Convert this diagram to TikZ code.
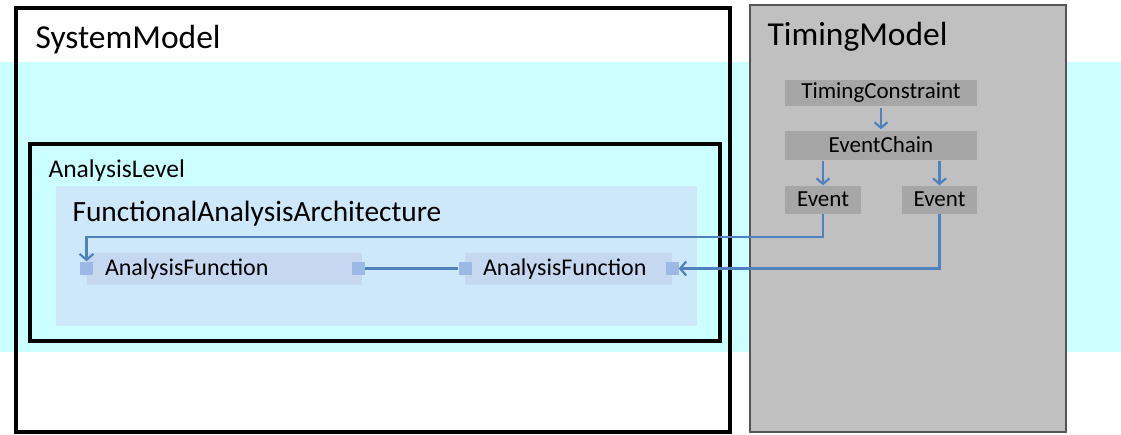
\documentclass[tikz,border=0pt]{standalone}
\usepackage{fontspec}
\setmainfont{Carlito}
\usetikzlibrary{arrows.meta}
\definecolor{bandcyan}{RGB}{204,255,255}
\definecolor{faafill}{RGB}{204,232,250}
\definecolor{affill}{RGB}{197,216,240}
\definecolor{portfill}{RGB}{155,185,228}
\definecolor{conn}{RGB}{79,129,189}
\definecolor{tmfill}{RGB}{192,192,192}
\definecolor{tbfill}{RGB}{166,166,166}
\definecolor{tmborder}{RGB}{85,85,85}
\tikzset{
  modelbox/.style={draw=black, line width=3.5pt, inner sep=0pt},
  afbox/.style={fill=affill, draw=none, minimum height=32pt, inner xsep=18pt, inner ysep=0pt, align=left, font=\fontsize{24}{28}\selectfont},
  port/.style={fill=portfill, draw=none, minimum size=13pt, inner sep=0pt},
  tbox/.style={fill=tbfill, draw=none, inner sep=0pt, font=\fontsize{23}{27}\selectfont},
  conarrow/.style={draw=conn, line width=2.2pt, -{Straight Barb[length=6pt,width=14pt,line width=2.2pt]}},
  shortarrow/.style={draw=conn, line width=2.2pt, -{Straight Barb[length=5.5pt,width=13pt,line width=2.2pt]}},
}
\begin{document}
\begin{tikzpicture}[x=1pt,y=-1pt]
\useasboundingbox (0,0) rectangle (1121,434);
% SystemModel white interior
\fill[white] (16,8) rectangle (730,432);
% cyan band
\fill[bandcyan] (0,62) rectangle (1121,352);
% SystemModel border
\node[modelbox, minimum width=714pt, minimum height=424pt] (sm) at (373,220) {};
\node[anchor=west, font=\fontsize{33.5}{40}\selectfont] (smt) at (32,40) {SystemModel};
% TimingModel
\node[fill=tmfill, draw=tmborder, line width=1.5pt, minimum width=316pt, minimum height=427pt, inner sep=0pt] (tm) at (908,218.5) {};
\node[anchor=west, font=\fontsize{33.5}{40}\selectfont] (tmt) at (764,37) {TimingModel};
% AnalysisLevel
\node[modelbox, minimum width=690pt, minimum height=197pt] (al) at (375,242.5) {};
\node[anchor=west, font=\fontsize{25.5}{30}\selectfont] (alt) at (45,171) {AnalysisLevel};
% FAA
\node[fill=faafill, draw=none, minimum width=641pt, minimum height=140pt, inner sep=0pt] (faa) at (376.5,256) {};
\node[anchor=west, font=\fontsize{29.4}{34}\selectfont] (faat) at (69,214) {FunctionalAnalysisArchitecture};
% AnalysisFunctions
\node[afbox, text width=239pt] (af1) at (224.5,269) {AnalysisFunction};
\node[afbox, text width=171pt] (af2) at (568.5,269) {AnalysisFunction};
\node[port] (p1) at (86.5,268) {};
\node[port] (p2) at (358.5,268.5) {};
\node[port] (p3) at (465,268.5) {};
\node[port] (p4) at (672,268.5) {};
\draw[draw=conn, line width=3.8pt] (p2.east) -- (p3.west);
% Timing boxes
\node[tbox, minimum width=192pt, minimum height=26pt] (tc) at (881,93) {TimingConstraint};
\node[tbox, minimum width=192pt, minimum height=29pt] (ec) at (881,145) {EventChain};
\node[tbox, minimum width=76pt, minimum height=28pt] (e1) at (823,199.5) {Event};
\node[tbox, minimum width=75pt, minimum height=28pt] (e2) at (939.5,199.5) {Event};
\draw[shortarrow] (tc.south) ++(0,2) -- ++(0,21);
\draw[shortarrow] (ec.south -| e1.north) ++(0,1) -- (e1.north) ;
\draw[shortarrow] (ec.south -| e2.north) ++(0,1) -- (e2.north);
% Connectors to ports
\coordinate (b1) at (823,237);
\draw[conarrow] (e1.south) -- (b1) -| (p1.north);
\draw[conarrow] (e2.south) |- (p4.east);
\end{tikzpicture}
\end{document}
